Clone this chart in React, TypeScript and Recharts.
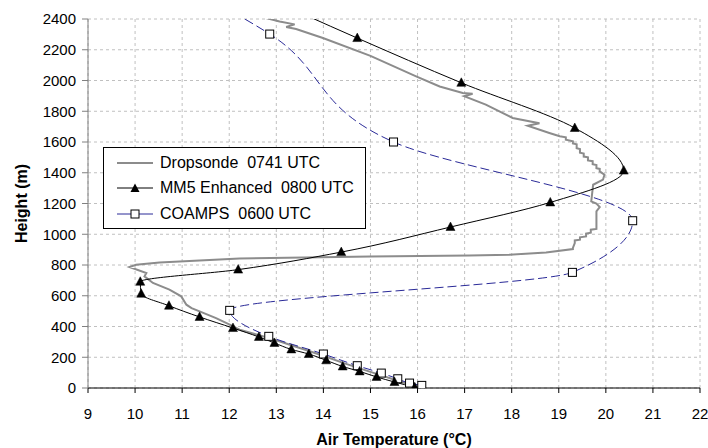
import React from 'react';
import { LineChart, Line, XAxis, YAxis, CartesianGrid, Legend } from 'recharts';

const FONT = 'Arial, "Liberation Sans", sans-serif';

const xTicks = [9, 10, 11, 12, 13, 14, 15, 16, 17, 18, 19, 20, 21, 22];
const yTicks = [0, 200, 400, 600, 800, 1000, 1200, 1400, 1600, 1800, 2000, 2200, 2400];

// Dropsonde 0741 UTC (traced profile, bottom to top)
const dropTemp = [
  16.0, 15.55, 15.0, 14.45, 13.95, 13.45, 12.9, 12.22, 12.01, 11.72, 11.37, 11.2, 11.09, 10.98, 10.73,
  10.38, 10.2, 10.24, 9.88, 10.02, 10.52, 12.22, 15.0, 17.1, 17.95, 18.73, 19.3, 19.3, 19.34, 19.34,
  19.45, 19.45, 19.58, 19.58, 19.68, 19.68, 19.8, 19.8, 19.8, 19.87, 19.8, 19.69, 19.73, 19.94, 19.97,
  19.87, 19.87, 19.8, 19.8, 19.72, 19.72, 19.62, 19.62, 19.53, 19.53, 19.45, 19.45, 19.38, 19.38, 19.3,
  19.3, 19.15, 19.15, 19.02, 18.8, 18.34, 18.59, 18.02, 17.45, 16.99, 17.17, 16.96, 16.47, 15.97, 15.0,
  13.99, 13.42, 13.21, 13.39, 13.07, 12.5,
];
const dropHeight = [
  5, 50, 105, 160, 215, 265, 320, 379, 412, 455, 498, 520, 542, 596, 640,
  683, 726, 748, 787, 802, 817, 842, 855, 862, 867, 882, 904, 911, 943, 960,
  965, 980, 986, 1005, 1010, 1030, 1035, 1051, 1149, 1177, 1199, 1214, 1322, 1355, 1387,
  1409, 1425, 1430, 1450, 1455, 1475, 1480, 1500, 1505, 1525, 1530, 1555, 1560, 1585, 1590,
  1604, 1615, 1630, 1637, 1659, 1706, 1722, 1756, 1843, 1898, 1914, 1919, 1961, 2027, 2160,
  2276, 2335, 2348, 2365, 2384, 2428,
];

// MM5 Enhanced 0800 UTC
const mm5Temp = [
  15.94, 15.51, 15.13, 14.77, 14.41, 14.06, 13.69, 13.32, 12.96, 12.63, 12.08, 11.37, 10.72, 10.13,
  10.11, 12.19, 14.38, 16.7, 18.82, 20.38, 19.34, 16.93, 14.72, 12.5,
];
const mm5Height = [
  5, 39, 72, 108, 140, 180, 221, 251, 293, 332, 390, 462, 535, 613,
  691, 770, 884, 1047, 1207, 1414, 1691, 1985, 2276, 2580,
];

// COAMPS 0600 UTC
const coampsTemp = [16.09, 15.83, 15.58, 15.23, 14.72, 14.0, 12.84, 12.01, 19.29, 20.57, 15.49, 12.86, 10.5];
const coampsHeight = [17, 32, 60, 97, 145, 221, 336, 505, 752, 1088, 1600, 2302, 2700];

const toPoints = (t: number[], h: number[]) => t.map((v, i) => ({ t: v, h: h[i] }));

const dropData = toPoints(dropTemp, dropHeight);
const mm5Data = toPoints(mm5Temp, mm5Height);
const coampsData = toPoints(coampsTemp, coampsHeight);

const DROP_COLOR = '#8c8c8c';
const COAMPS_COLOR = '#2a2a98';

function TriangleDot(props: any) {
  const { cx, cy, index } = props;
  if (cx == null || cy == null) return <g key={`t-${index}`} />;
  return (
    <path
      key={`t-${index}`}
      d={`M${cx},${cy - 5}L${cx + 4.5},${cy + 3.5}L${cx - 4.5},${cy + 3.5}Z`}
      fill="#000"
      stroke="#000"
      strokeWidth={0.5}
    />
  );
}

function SquareDot(props: any) {
  const { cx, cy, index } = props;
  if (cx == null || cy == null) return <g key={`s-${index}`} />;
  return <rect key={`s-${index}`} x={cx - 4} y={cy - 4} width={8} height={8} fill="#fff" stroke="#000" strokeWidth={1} />;
}

const legendItems = [
  { name: 'Dropsonde  0741 UTC', color: DROP_COLOR, width: 2, marker: 'none' },
  { name: 'MM5 Enhanced  0800 UTC', color: '#000', width: 1, marker: 'triangle' },
  { name: 'COAMPS  0600 UTC', color: COAMPS_COLOR, width: 1, marker: 'square' },
];

function LegendBox() {
  return (
    <div
      style={{
        width: 261,
        height: 78,
        border: '1px solid #000',
        background: '#fff',
        fontFamily: FONT,
        fontSize: 16,
        color: '#000',
        paddingTop: 2,
        boxSizing: 'content-box',
      }}
    >
      {legendItems.map((item) => (
        <div key={item.name} style={{ display: 'flex', alignItems: 'center', height: 25.5, whiteSpace: 'pre' }}>
          <svg width={50} height={14} style={{ flex: 'none' }}>
            <line x1={13} x2={49} y1={7} y2={7} stroke={item.color} strokeWidth={item.width} />
            {item.marker === 'triangle' && <path d="M31,2.5L35.5,11L26.5,11Z" fill="#000" />}
            {item.marker === 'square' && <rect x={27} y={3} width={8} height={8} fill="#fff" stroke="#000" />}
          </svg>
          <span style={{ marginLeft: 6 }}>{item.name}</span>
        </div>
      ))}
    </div>
  );
}

function YTitle(props: any) {
  const vb = props.viewBox || { x: 0, y: 19, width: 88, height: 369 };
  const x = vb.x + 21;
  const y = vb.y + vb.height / 2;
  return (
    <text
      x={x}
      y={y}
      transform={`rotate(-90 ${x} ${y})`}
      textAnchor="middle"
      dominantBaseline="central"
      fontFamily={FONT}
      fontSize={16}
      fontWeight="bold"
      fill="#000"
    >
      Height (m)
    </text>
  );
}

export default function App() {
  return (
    <div style={{ position: 'absolute', left: 0, top: 0, width: 708, height: 448, background: '#fff' }}>
      <LineChart width={708} height={448} margin={{ top: 19, right: 8, left: 0, bottom: 0 }}>
        <CartesianGrid stroke="#c0c0c0" strokeDasharray="3 3" />
        <XAxis
          dataKey="t"
          type="number"
          domain={[9, 22]}
          ticks={xTicks}
          allowDataOverflow
          height={60}
          tickSize={5}
          tickMargin={15}
          stroke="#000"
          tick={{ fontSize: 15, fill: '#000', fontFamily: FONT }}
          label={{
            value: 'Air Temperature (°C)',
            position: 'insideBottom',
            offset: 3,
            fontSize: 16,
            fontWeight: 'bold',
            fill: '#000',
            fontFamily: FONT,
          }}
        />
        <YAxis
          type="number"
          domain={[0, 2400]}
          ticks={yTicks}
          allowDataOverflow
          width={88}
          tickSize={6}
          tickMargin={6}
          stroke="#808080"
          tick={{ fontSize: 15, fill: '#000', fontFamily: FONT }}
          label={{ content: <YTitle /> }}
        />
        <Legend
          layout="vertical"
          verticalAlign="middle"
          align="center"
          content={<LegendBox />}
          wrapperStyle={{ left: 103, top: 147, width: 263, height: 80 }}
        />
        <Line
          data={dropData}
          dataKey="h"
          type="linear"
          stroke={DROP_COLOR}
          strokeWidth={2}
          dot={false}
          isAnimationActive={false}
        />
        <Line
          data={coampsData}
          dataKey="h"
          type="monotoneY"
          stroke={COAMPS_COLOR}
          strokeWidth={1}
          strokeDasharray="9 4"
          dot={(p: any) => <SquareDot {...p} />}
          isAnimationActive={false}
        />
        <Line
          data={mm5Data}
          dataKey="h"
          type="monotoneY"
          stroke="#000"
          strokeWidth={1}
          dot={(p: any) => <TriangleDot {...p} />}
          isAnimationActive={false}
        />
      </LineChart>
    </div>
  );
}
